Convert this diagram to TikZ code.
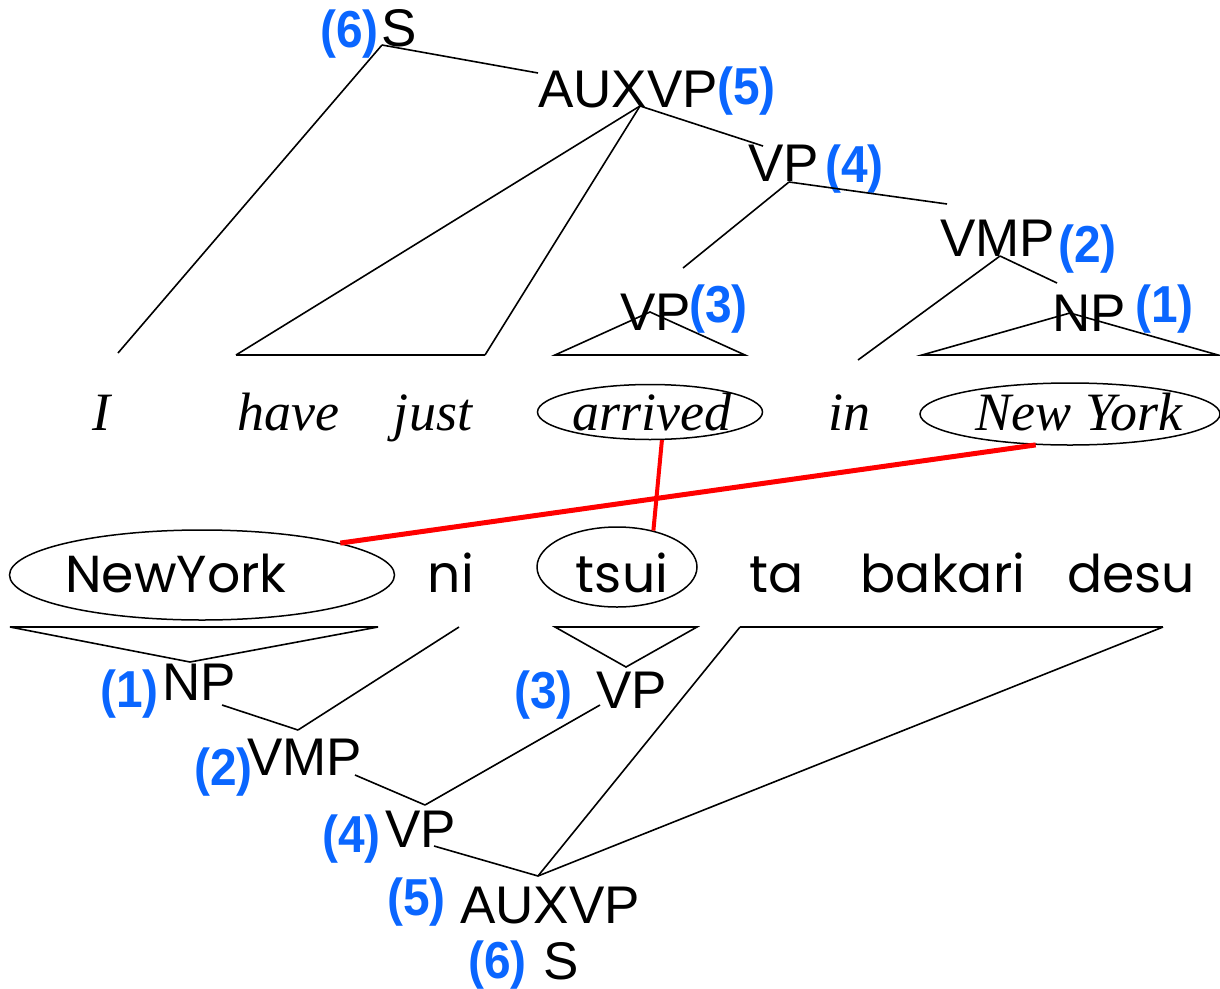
\documentclass[tikz,border=0pt]{standalone}
\usepackage{fontspec}
\setmainfont{Liberation Serif}
\setsansfont{Liberation Sans}
\newfontfamily\romaji{Poppins}
\newfontfamily\ordfont[FakeStretch=0.92]{Liberation Sans}
\usepackage{tikz}
\usetikzlibrary{shapes.geometric}
\definecolor{stepblue}{HTML}{0A66FF}
\definecolor{linkred}{HTML}{FF0000}

\begin{document}
\begin{tikzpicture}[x=1pt,y=-1pt,
  cat/.style={inner sep=0pt,font=\fontsize{53}{60}\selectfont\sffamily},
  ord/.style={inner sep=0pt,text=stepblue,font=\fontsize{52}{58}\selectfont\ordfont\bfseries},
  eword/.style={inner sep=0pt,anchor=base,font=\fontsize{54}{60}\selectfont\itshape},
  jword/.style={inner sep=0pt,anchor=base,font=\fontsize{52}{58}\selectfont\romaji},
  ring/.style={draw,ellipse,line width=1.5pt,inner sep=0pt},
  branch/.style={line width=1.6pt},
  link/.style={linkred,line width=5pt}
]
  \useasboundingbox (0,0) rectangle (1220,988);

  % English sentence
  \node[eword] (eI)     at (101,430)  {I};
  \node[eword] (eHave)  at (288,430)  {have};
  \node[eword] (eJust)  at (433,430)  {just};
  \node[eword] (eArr)   at (652,430)  {arrived};
  \node[eword] (eIn)    at (849,430)  {in};
  \node[eword] (eNY)    at (1079,430) {New York};
  \node[ring,minimum width=225pt,minimum height=55pt] (eArrRing) at (650,412) {};
  \node[ring,minimum width=300pt,minimum height=62pt] (eNYRing)  at (1070,414) {};

  % Japanese sentence
  \node[jword] (jNY)    at (176,592)  {NewYork};
  \node[jword] (jNi)    at (451,592)  {ni};
  \node[jword] (jTsui)  at (622,592)  {tsui};
  \node[jword] (jTa)    at (777,592)  {ta};
  \node[jword] (jBakari) at (943,592) {bakari};
  \node[jword] (jDesu)  at (1131,592) {desu};
  \node[ring,minimum width=385pt,minimum height=90pt] (jNYRing)   at (202,575) {};
  \node[ring,minimum width=160pt,minimum height=80pt] (jTsuiRing) at (617,567) {};

  % categories of the English tree, with their step numbers
  \node[cat,anchor=base west] (uS)   at (381,46)   {S};
  \node[ord,anchor=base east] (uSn)  at (379,47)   {(6)};
  \node[cat,anchor=base west] (uAux) at (538,107)  {AUXVP};
  \node[ord,anchor=base west] (uAuxn) at (717,104) {(5)};
  \node[cat,anchor=base west] (uVP)  at (748,181)  {VP};
  \node[ord,anchor=base west] (uVPn) at (825,182)  {(4)};
  \node[cat,anchor=base west] (uVMP) at (940,256)  {VMP};
  \node[ord,anchor=base west] (uVMPn) at (1058,262) {(2)};
  \node[cat,anchor=base west] (uVV)  at (620,330)  {VP};
  \node[ord,anchor=base west] (uVVn) at (689,322)  {(3)};
  \node[cat,anchor=base west] (uNP)  at (1052,331) {NP};
  \node[ord,anchor=base west] (uNPn) at (1135,322) {(1)};

  % categories of the Japanese tree
  \node[cat,anchor=base west] (lNP)  at (162,700)  {NP};
  \node[ord,anchor=base east] (lNPn) at (159,707)  {(1)};
  \node[cat,anchor=base west] (lVMP) at (247,775)  {VMP};
  \node[ord,anchor=base east] (lVMPn) at (253,785) {(2)};
  \node[cat,anchor=base west] (lVV)  at (596,708)  {VP};
  \node[ord,anchor=base east] (lVVn) at (573,708)  {(3)};
  \node[cat,anchor=base west] (lVP)  at (385,847)  {VP};
  \node[ord,anchor=base east] (lVPn) at (381,852)  {(4)};
  \node[cat,anchor=base west] (lAux) at (460,923)  {AUXVP};
  \node[ord,anchor=base east] (lAuxn) at (446,915) {(5)};
  \node[cat,anchor=base west] (lS)   at (543,979)  {S};
  \node[ord,anchor=base east] (lSn)  at (527,978)  {(6)};

  % branch ends, upper tree
  \coordinate (sJ)    at (382,45);
  \coordinate (auxJ)  at (640,106);
  \coordinate (vpJ)   at (789,182);
  \coordinate (vmpJ)  at (1000,256);
  \coordinate (iEnd)  at (118,353);
  \coordinate (auxIn) at (538,73);
  \coordinate (haveL) at (236,355);
  \coordinate (justR) at (485,355);
  \coordinate (vpIn)  at (763,146);
  \coordinate (vvIn)  at (683,268);
  \coordinate (vmpIn) at (947,204);
  \coordinate (inEnd) at (858,360);
  \coordinate (npIn)  at (1057,283);

  % branch ends, lower tree
  \coordinate (nyL)    at (10,627);
  \coordinate (nyR)    at (378,627);
  \coordinate (npApex) at (190,662);
  \coordinate (npOut)  at (222,705);
  \coordinate (vmpJl)  at (298,730);
  \coordinate (niEnd)  at (459,627);
  \coordinate (vmpOut) at (355,775);
  \coordinate (vpJl)   at (425,805);
  \coordinate (vvOut)  at (600,705);
  \coordinate (tsuiL)  at (555,627);
  \coordinate (tsuiR)  at (697,627);
  \coordinate (vvApex) at (626,667);
  \coordinate (vpOut)  at (434,846);
  \coordinate (auxJl)  at (538,876);
  \coordinate (taL)    at (740,627);
  \coordinate (desuR)  at (1163,627);

  \foreach \a/\b in {sJ/iEnd,sJ/auxIn,auxJ/haveL,auxJ/justR,haveL/justR,auxJ/vpIn,
                     vpJ/vvIn,vpJ/vmpIn,vmpJ/inEnd,vmpJ/npIn,
                     npOut/vmpJl,niEnd/vmpJl,vmpOut/vpJl,vvOut/vpJl,
                     vpOut/auxJl,auxJl/taL,auxJl/desuR,taL/desuR}{
    \draw[branch] (\a) -- (\b);
  }

  % phrase triangles
  \draw[branch] (555,355) -- (650,312) -- (745,355) -- cycle;
  \draw[branch] (922,355) -- (1070,313) -- (1218,355) -- cycle;
  \draw[branch] (nyL) -- (npApex) -- (nyR) -- cycle;
  \draw[branch] (tsuiL) -- (vvApex) -- (tsuiR) -- cycle;

  % word alignment
  \draw[link] (eNYRing.222) -- (jNYRing.13);
  \draw[link,line width=4pt] (eArrRing.293) -- (jTsuiRing.45);
\end{tikzpicture}
\end{document}
